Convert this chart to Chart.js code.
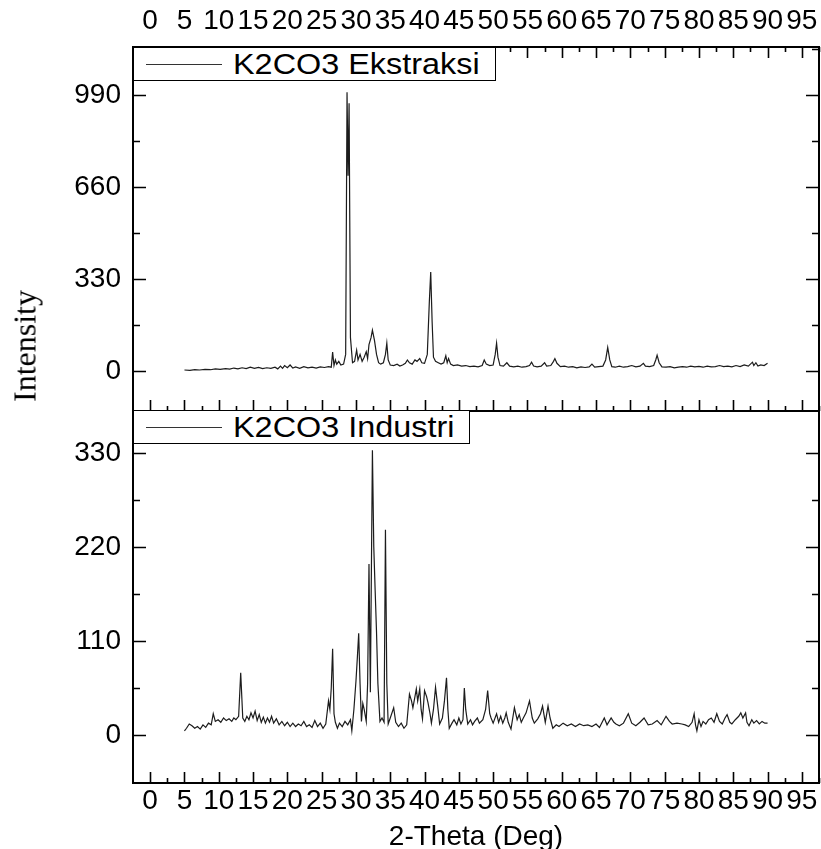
<!DOCTYPE html>
<html>
<head>
<meta charset="utf-8">
<script src="https://cdn.jsdelivr.net/npm/chart.js@4.4.1/dist/chart.umd.min.js"></script>
<style>
  html, body { margin: 0; padding: 0; background: #fff; }
  body { width: 821px; height: 849px; position: relative; overflow: hidden; font-family: "Liberation Sans", Arial, sans-serif; }
  canvas { position: absolute; left: 0; }
  .legend { position: absolute; background: #fff; border: 1.5px solid #000; box-sizing: border-box; color: #000; white-space: nowrap; }
  .legend .ln { position: absolute; left: 12px; top: 50%; width: 76px; height: 0; border-top: 1.5px solid #333; }
  .legend .tx { position: absolute; left: 99px; top: 50%; font-size: 30px; line-height: 30px; transform: translateY(-50%) scaleX(1.08); transform-origin: left center; }
  #ylab { position: absolute; left: 25px; top: 346px; transform: translate(-50%, -50%) rotate(-90deg); font-family: "Liberation Serif", "Times New Roman", serif; font-size: 32px; white-space: nowrap; }
  #xlab { position: absolute; left: 476px; top: 836px; transform: translate(-50%, -50%); font-size: 28px; line-height: 28px; white-space: nowrap; }
</style>
</head>
<body>
<canvas id="top" width="821" height="413" style="top:0"></canvas>
<canvas id="bot" width="821" height="440" style="top:409px"></canvas>
<div class="legend" style="left:133px; top:47px; width:363px; height:34px;"><span class="ln"></span><span class="tx" id="leg1"></span></div>
<div class="legend" style="left:133px; top:410px; width:337px; height:34px;"><span class="ln"></span><span class="tx" id="leg2"></span></div>
<div id="ylab">Intensity</div>
<div id="xlab">2-Theta (Deg)</div>
<script>
// ---------- data ----------
const seriesNames = ["K2CO3 Ekstraksi", "K2CO3 Industri"];
const xTickValues = [0,5,10,15,20,25,30,35,40,45,50,55,60,65,70,75,80,85,90,95];
const xTickLabels = ["0","5","10","15","20","25","30","35","40","45","50","55","60","65","70","75","80","85","90","95"];
const topYTicks = [0,330,660,990];
const botYTicks = [0,110,220,330];

const ekstraksiX = [5.0,5.8,6.5,7.2,8.0,8.8,9.5,10.2,11.0,11.6,12.2,12.8,13.4,14.0,14.6,15.2,15.8,16.4,17.0,17.6,18.2,18.6,19.0,19.3,19.6,20.0,20.4,20.8,21.2,21.8,22.4,23.0,23.6,24.2,24.8,25.4,26.0,26.4,26.6,26.8,27.0,27.2,27.5,27.8,28.2,28.5,28.7,28.85,29.0,29.2,29.5,29.8,30.1,30.3,30.6,30.9,31.2,31.5,31.7,31.9,32.2,32.4,32.7,33.0,33.3,33.6,34.0,34.3,34.5,34.7,35.0,35.5,36.0,36.4,36.8,37.2,37.5,37.8,38.2,38.6,38.9,39.3,39.6,40.0,40.4,40.7,40.9,41.1,41.3,41.6,42.0,42.4,42.8,43.1,43.3,43.5,43.8,44.2,44.8,45.4,46.0,46.6,47.2,47.8,48.4,48.7,49.0,49.5,50.0,50.3,50.5,50.7,51.0,51.5,52.0,52.4,53.0,53.6,54.2,54.8,55.3,55.6,55.9,56.4,57.0,57.5,57.8,58.4,58.8,59.0,59.3,59.8,60.4,61.0,61.6,62.2,62.8,63.4,64.0,64.4,64.8,65.4,66.0,66.4,66.7,67.0,67.3,67.8,68.4,69.0,69.6,70.2,70.8,71.4,71.9,72.2,72.8,73.4,73.7,73.9,74.2,74.6,75.2,75.8,76.4,77.0,77.6,78.2,78.8,79.4,80.0,80.6,81.2,81.8,82.4,83.0,83.6,84.2,84.8,85.4,86.0,86.6,87.2,87.8,88.0,88.3,88.6,89.0,89.5,90.0];
const ekstraksiY = [4,3,5,4,6,5,8,6,9,7,11,8,12,9,14,10,13,9,12,10,14,8,18,10,20,12,22,11,15,10,16,12,14,11,15,13,16,14,68,20,40,25,35,22,25,60,1000,700,960,120,30,35,75,40,60,35,50,70,45,95,120,147,110,60,30,25,30,60,100,40,22,20,25,18,22,28,40,30,25,40,35,45,30,28,60,250,355,180,50,35,30,25,30,55,30,45,25,20,22,18,20,16,18,15,20,40,25,20,22,60,100,50,20,18,30,18,15,18,14,16,20,32,18,15,18,30,18,20,35,45,28,16,18,14,16,12,15,13,15,25,14,16,18,40,85,40,16,14,18,14,16,20,15,18,28,18,16,20,40,57,30,15,14,16,12,14,16,14,18,15,17,14,18,15,16,20,16,18,15,20,16,22,18,32,20,30,18,22,20,28];

const industriX = [5.0,5.3,5.7,6.1,6.5,6.9,7.3,7.7,8.1,8.5,8.9,9.2,9.5,9.9,10.3,10.7,11.1,11.5,11.9,12.2,12.5,12.9,13.2,13.5,13.8,14.1,14.4,14.7,15.0,15.3,15.6,15.9,16.2,16.5,16.8,17.1,17.4,17.7,18.0,18.4,18.8,19.2,19.6,20.0,20.4,20.8,21.2,21.6,22.0,22.4,22.8,23.2,23.6,24.0,24.4,24.8,25.2,25.6,26.0,26.2,26.4,26.6,26.8,27.0,27.3,27.6,28.0,28.4,28.8,29.2,29.4,29.7,30.0,30.2,30.4,30.6,30.8,31.0,31.2,31.5,31.7,31.9,32.1,32.4,32.6,32.8,33.0,33.2,33.5,33.8,34.1,34.3,34.5,34.7,35.0,35.5,35.8,36.2,36.6,37.0,37.4,37.8,38.1,38.3,38.6,38.8,39.0,39.3,39.5,39.7,40.0,40.3,40.5,40.8,41.0,41.3,41.6,41.9,42.2,42.6,42.9,43.2,43.4,43.6,44.0,44.3,44.7,45.0,45.3,45.6,45.8,46.0,46.3,46.7,47.0,47.3,47.7,48.0,48.5,48.9,49.2,49.5,49.7,50.0,50.5,50.8,51.1,51.4,51.7,51.9,52.2,52.6,53.1,53.5,53.8,54.1,54.4,54.8,55.3,55.7,56.0,56.5,56.9,57.2,57.6,58.0,58.3,58.7,59.2,59.6,60.2,60.8,61.4,62.0,62.6,63.2,63.8,64.4,65.0,65.5,66.2,66.6,67.2,67.6,67.9,68.4,69.0,69.7,70.2,70.8,71.4,72.0,72.6,73.2,73.9,74.5,75.2,75.7,76.1,76.8,77.5,78.0,78.5,79.0,79.3,79.5,79.7,80.0,80.3,80.6,81.0,81.4,81.8,82.2,82.6,83.0,83.4,83.8,84.1,84.5,84.8,85.3,85.8,86.1,86.4,86.8,87.0,87.3,87.7,88.0,88.4,88.8,89.2,89.6,90.0];
const industriY = [5,8,13,11,8,10,7,12,9,14,12,25,16,18,15,20,17,19,16,20,18,22,73,20,16,22,18,26,20,28,17,24,15,21,14,20,15,22,14,19,12,16,11,15,10,14,10,13,11,16,10,12,9,17,10,14,8,13,40,30,55,101,25,15,8,14,10,16,12,18,5,30,63,90,119,60,16,37,30,16,60,200,50,333,220,169,120,60,16,20,15,240,60,13,20,32,15,10,14,8,12,48,40,32,45,54,40,54,30,19,52,45,38,25,14,30,56,35,13,20,40,67,30,8,14,18,12,20,13,18,55,30,13,18,12,16,20,14,18,30,52,25,20,14,25,15,22,14,20,26,15,7,32,18,24,15,20,26,40,20,14,19,25,34,15,34,20,8,12,10,14,11,13,10,13,11,12,10,13,9,20,12,20,15,13,11,14,25,14,11,15,20,12,13,17,12,22,16,13,14,13,12,10,15,25,12,5,18,10,16,13,18,20,15,25,16,13,20,24,15,13,18,22,26,20,26,15,11,18,14,17,13,16,14,14];

document.getElementById('leg1').textContent = seriesNames[0];
document.getElementById('leg2').textContent = seriesNames[1];

const FAMILY = '"Liberation Sans", Arial, sans-serif';
const XFONT = { family: FAMILY, size: 28 };
const YFONT = { family: FAMILY, size: 28 };
const INK = '#000';

function framePlugin(opts) {
  return {
    id: 'frame',
    afterDraw(chart) {
      const ctx = chart.ctx, a = chart.chartArea;
      const xs = chart.scales.x, ys = chart.scales.y;
      ctx.save();
      ctx.strokeStyle = INK;
      ctx.lineWidth = 2;
      ctx.strokeRect(a.left, a.top, a.right - a.left, a.bottom - a.top);
      ctx.lineWidth = 1.6;
      ctx.beginPath();
      for (let v = 0; v <= 97.5; v += 2.5) {
        const px = Math.round(xs.getPixelForValue(v)) + 0.5;
        const len = (v % 5 === 0) ? 11 : 5;
        if (opts.xTop) { ctx.moveTo(px, a.top); ctx.lineTo(px, a.top + len); }
        if (opts.xBottom) { ctx.moveTo(px, a.bottom); ctx.lineTo(px, a.bottom - len); }
      }
      const step = opts.yStep / 2;
      for (let v = 0; v <= ys.max; v += step) {
        const py = Math.round(ys.getPixelForValue(v)) + 0.5;
        const len = (Math.round(v / step) % 2 === 0) ? 13 : 7;
        ctx.moveTo(a.left, py); ctx.lineTo(a.left + len, py);
        ctx.moveTo(a.right, py); ctx.lineTo(a.right - len, py);
      }
      ctx.stroke();
      ctx.restore();
    }
  };
}

function makeChart(id, xs, ys, cfg) {
  return new Chart(document.getElementById(id), {
    type: 'line',
    data: {
      datasets: [{
        label: cfg.label,
        data: xs.map((x, i) => ({ x: x, y: ys[i] })),
        borderColor: '#1c1c1c',
        borderWidth: 1.2,
        pointRadius: 0,
        tension: 0,
        fill: false
      }]
    },
    options: {
      responsive: false,
      animation: false,
      devicePixelRatio: 1,
      layout: { padding: cfg.padding, autoPadding: false },
      plugins: { legend: { display: false }, tooltip: { enabled: false } },
      scales: {
        x: {
          type: 'linear',
          position: cfg.xPos,
          min: -2.5, max: 97.5,
          grid: { display: false, drawTicks: false },
          border: { display: false },
          afterBuildTicks(s) { s.ticks = xTickValues.map(v => ({ value: v })); },
          afterFit(s) { s.height = cfg.xHeight; s.paddingLeft = 0; s.paddingRight = 0; s.paddingTop = 0; s.paddingBottom = 0; },
          ticks: {
            autoSkip: false, maxRotation: 0, padding: cfg.xPad,
            font: XFONT, color: INK,
            callback(v) { const i = xTickValues.indexOf(v); return i >= 0 ? xTickLabels[i] : ''; }
          }
        },
        y: {
          type: 'linear',
          position: 'left',
          min: cfg.yMin, max: cfg.yMax,
          grid: { display: false, drawTicks: false },
          border: { display: false },
          afterBuildTicks(s) { s.ticks = cfg.yTicks.map(v => ({ value: v })); },
          afterFit(s) { s.width = 133; s.paddingLeft = 0; s.paddingRight = 0; s.paddingTop = 0; s.paddingBottom = 0; },
          ticks: { padding: 12, font: YFONT, color: INK, callback: v => String(v) }
        }
      }
    },
    plugins: [framePlugin(cfg.frame)]
  });
}

makeChart('top', ekstraksiX, ekstraksiY, {
  label: seriesNames[0], xPos: 'top', xHeight: 47, xPad: 9,
  padding: { left: 0, right: 2, top: 0, bottom: 2 },
  yMin: -143, yMax: 1162, yTicks: topYTicks,
  frame: { xTop: true, xBottom: true, yStep: 330 }
});
makeChart('bot', industriX, industriY, {
  label: seriesNames[1], xPos: 'bottom', xHeight: 66, xPad: 1,
  padding: { left: 0, right: 2, top: 2, bottom: 0 },
  yMin: -56, yMax: 379, yTicks: botYTicks,
  frame: { xTop: false, xBottom: true, yStep: 110 }
});
</script>
</body>
</html>
